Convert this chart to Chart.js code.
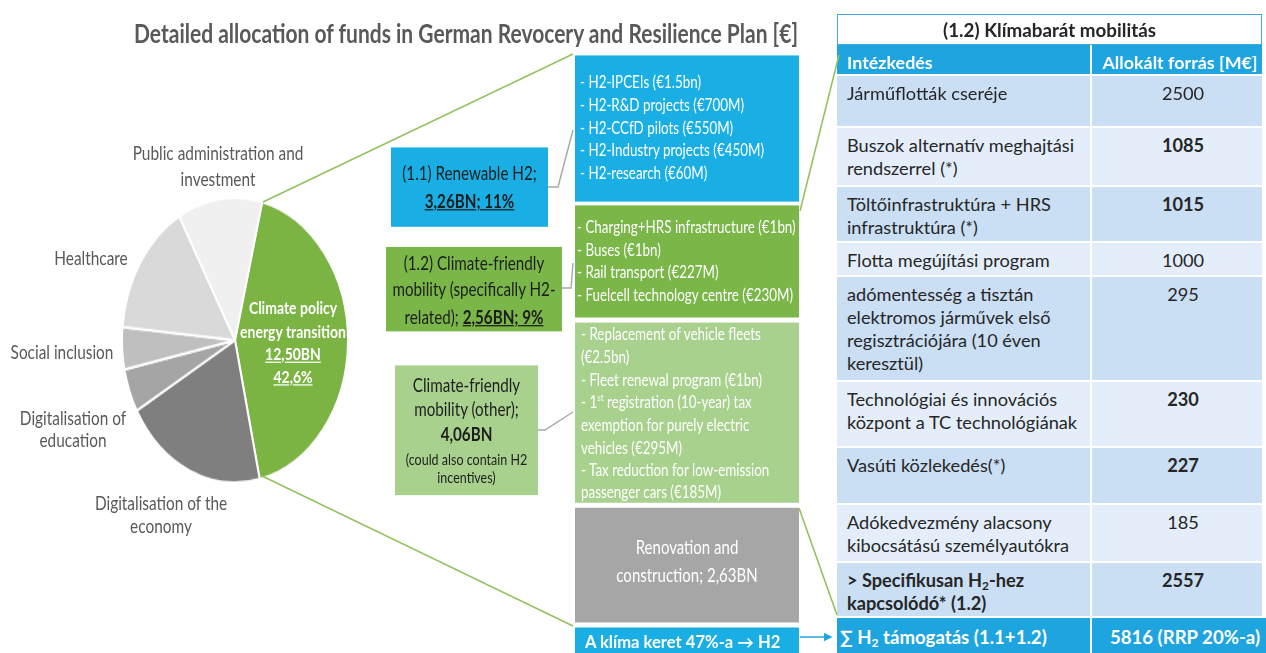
<!DOCTYPE html>
<html lang="en">
<head>
<meta charset="UTF-8">
<title>German Recovery and Resilience Plan - allocation of funds</title>
<script src="https://cdn.jsdelivr.net/npm/chart.js"></script>
<style>
  body { margin: 0; background: #fff; font-family: Lato, "Open Sans", sans-serif; color: #262626; overflow: hidden; }
  #page { position: relative; width: 1266px; height: 653px; overflow: hidden; }
  /* the source picture is stretched vertically, so the left part of the layout is scaled the same way */
  #stage { position: absolute; left: 0; top: 0; width: 1266px; height: 520px; transform: scaleY(1.26); transform-origin: 0 0; }
  .abs { position: absolute; white-space: nowrap; }
  .title { font-weight: bold; font-size: 21px; color: #595959; text-align: center; }
  .lbl { font-size: 15.4px; color: #595959; text-align: center; }
  .blue { background: #1aafe4; }
  .green { background: #7ab648; }
  .lgreen { background: #a9d18e; }
  .grey { background: #a6a6a6; }
  .list { font-size: 13.4px; color: #fff; }
  .dark { font-size: 15.2px; color: #1e1e1e; text-align: center; }
  .u { text-decoration: underline; font-weight: bold; }
  .cell { position: absolute; box-sizing: border-box; padding-left: 10px; font-size: 18.2px; line-height: 23px; white-space: nowrap; }
  sup { font-size: 0.6em; line-height: 0; }
  sub { font-size: 0.65em; line-height: 0; vertical-align: -0.25em; }
  #lines { position: absolute; left: 0; top: 0; }
</style>
</head>
<body>
<div id="page">
  <div id="stage">
    <div class="abs title" data-r="66,33,800" data-lh="30">Detailed allocation of funds in German Revocery and Resilience Plan [€]</div>

    <div class="abs" id="pieBox" data-r="121,196.3,228,287.3"><canvas id="pie"></canvas></div>

    <div class="abs lbl" data-r="108,153,220" data-lh="27">Public administration and<br>investment</div>
    <div class="abs lbl" data-r="30,258,122" data-lh="25">Healthcare</div>
    <div class="abs lbl" data-r="0,353,124" data-lh="25">Social inclusion</div>
    <div class="abs lbl" data-r="8,417,130" data-lh="23">Digitalisation of<br>education</div>
    <div class="abs lbl" data-r="76,503,170" data-lh="23">Digitalisation of the<br>economy</div>
    <div class="abs" id="pieText" data-r="228,308,130" data-lh="23" style="font-size:14px;font-weight:bold;color:#fff;text-align:center"></div>

    <div class="abs blue" data-r="575,56,224,146"></div>
    <div class="abs list" id="listH2" data-r="580,83,220" data-lh="22.6"></div>
    <div class="abs green" data-r="575,206,224,111"></div>
    <div class="abs list" id="listMob" data-r="577,227,222" data-lh="22.7"></div>
    <div class="abs lgreen" data-r="575,322,224,181"></div>
    <div class="abs list" id="listOther" data-r="581,335,218" data-lh="22.6"></div>
    <div class="abs grey" data-r="575,508,224,115"></div>
    <div class="abs" data-r="575,548,224" data-lh="27" style="font-size:15px;color:#fff;text-align:center">Renovation and<br>construction; 2,63BN</div>
    <div class="abs blue" data-r="575,627,224,40"></div>

    <div class="abs blue" data-r="391,147,157,80"></div>
    <div class="abs dark" data-r="385,173,169" data-lh="28">(1.1) Renewable H2;<br><span class="u">3,26BN; 11%</span></div>
    <div class="abs green" data-r="386,247,176,85"></div>
    <div class="abs dark" data-r="380,263,188" data-lh="27">(1.2) Climate-friendly<br>mobility (specifically H2-<br>related); <span class="u">2,56BN; 9%</span></div>
    <div class="abs lgreen" data-r="395,366,143,129"></div>
    <div class="abs dark" data-r="390,385,153" data-lh="25">Climate-friendly<br>mobility (other);<br><b>4,06BN</b></div>
    <div class="abs dark" data-r="390,460,153" data-lh="18" style="font-size:12.5px">(could also contain H2<br>incentives)</div>
  </div>

  <!-- right-hand table, laid out directly in picture pixels -->
  <div class="abs" style="left:585px;top:632px;line-height:21px;font-size:16.6px;font-weight:bold;color:#fff">A klíma keret 47%-a → H2</div>
  <div class="abs" style="left:837px;top:14px;width:425px;height:31px;box-sizing:border-box;border:1px solid #3fa9e0;background:#fff"></div>
  <div class="abs" style="left:837px;top:17px;width:425px;line-height:26px;font-size:18.8px;font-weight:bold;text-align:center">(1.2) Klímabarát mobilitás</div>
  <div id="table"></div>

  <svg id="lines" width="1266" height="653">
    <defs>
      <marker id="arr" markerWidth="6" markerHeight="6" refX="5" refY="3" orient="auto">
        <path d="M0,0 L6,3 L0,6 z" fill="#1ea4df"/>
      </marker>
    </defs>
    <g stroke="#92c25f" stroke-width="1.6" fill="none">
      <path d="M263,202 L573,54"/>
      <path d="M260,475 L573,626"/>
      <path d="M800,211 L839,55"/>
      <path d="M799,508 L837,615"/>
    </g>
    <g stroke="#a6a6a6" stroke-width="1.4" fill="none">
      <path d="M548,187 H558 L573,130"/>
      <path d="M562,288 H571 L573,263"/>
      <path d="M538,430 H545 L573,412"/>
    </g>
    <path d="M800,637 H831" stroke="#1ea4df" stroke-width="1.5" marker-end="url(#arr)"/>
  </svg>
</div>

<script>
  const S = 1.26;

  // pie: sectors of the plan, billions of euro
  const sectorLabels = ['Climate policy energy transition', 'Digitalisation of the economy', 'Digitalisation of education',
    'Social inclusion', 'Healthcare', 'Public administration and investment'];
  const sectorFundsBn = [12.50, 5.95, 1.44, 1.40, 4.49, 3.54];
  const sectorColors = ['#7cb444', '#7f7f7f', '#a5a5a5', '#bfbfbf', '#d9d9d9', '#f0f0f0'];
  const climateText = ['Climate policy', 'energy transition', '12,50BN', '42,6%'];

  // breakdown boxes
  const h2Items = ['- H2-IPCEIs (€1.5bn)', '- H2-R&D projects (€700M)', '- H2-CCfD pilots (€550M)',
    '- H2-Industry projects (€450M)', '- H2-research (€60M)'];
  const mobilityItems = ['- Charging+HRS infrastructure (€1bn)', '- Buses (€1bn)', '- Rail transport (€227M)',
    '- Fuelcell technology centre (€230M)'];
  const otherItems = ['- Replacement of vehicle fleets', '(€2.5bn)', '-  Fleet renewal program (€1bn)',
    '- 1<sup>st</sup> registration (10-year) tax', 'exemption for purely electric', 'vehicles (€295M)',
    '- Tax reduction for low-emission', 'passenger cars (€185M)'];

  // table (1.2) Klímabarát mobilitás
  const tableHeader = ['Intézkedés', 'Allokált forrás [M€]'];
  const measures = ['Járműflották cseréje', 'Buszok alternatív meghajtási<br>rendszerrel (*)',
    'Töltőinfrastruktúra + HRS<br>infrastruktúra (*)', 'Flotta megújítási program',
    'adómentesség a tisztán<br>elektromos járművek első<br>regisztrációjára (10 éven<br>keresztül)',
    'Technológiai és innovációs<br>központ a TC technológiának', 'Vasúti közlekedés(*)',
    'Adókedvezmény alacsony<br>kibocsátású személyautókra', '<b>&gt; Specifikusan H<sub>2</sub>-hez<br>kapcsolódó* (1.2)</b>'];
  const measureFunds = [2500, 1085, 1015, 1000, 295, 230, 227, 185, 2557];
  const fundsBold = [false, true, true, false, false, true, true, false, true];
  const totalRow = ['∑ H<sub>2</sub> támogatás (1.1+1.2)', '5816 (RRP 20%-a)'];

  document.getElementById('listH2').innerHTML = h2Items.join('<br>');
  document.getElementById('listMob').innerHTML = mobilityItems.join('<br>');
  document.getElementById('listOther').innerHTML = otherItems.join('<br>');
  document.getElementById('pieText').innerHTML = climateText
    .map((t, i) => i > 1 ? '<span style="text-decoration:underline">' + t + '</span>' : t).join('<br>');

  // table rows, boundaries in picture pixels
  const rowTops = [45, 76, 128, 187, 243, 277, 382, 448, 505, 563, 618, 660];
  const table = document.getElementById('table');
  function cell(x, w, top, bottom, bg, html, style) {
    const d = document.createElement('div');
    d.className = 'cell';
    d.style.left = x + 'px';
    d.style.width = w + 'px';
    d.style.top = top + 'px';
    d.style.height = (bottom - top - 2) + 'px';
    d.style.background = bg;
    d.style.paddingTop = '5.5px';
    d.innerHTML = html;
    if (style) Object.assign(d.style, style);
    table.appendChild(d);
  }
  const headBlue = '#1ea4df';
  cell(837, 253, rowTops[0], rowTops[1], headBlue, tableHeader[0], { color: '#fff', fontWeight: 'bold', fontSize: '17.9px' });
  cell(1092, 170, rowTops[0], rowTops[1], headBlue, tableHeader[1], { color: '#fff', fontWeight: 'bold', fontSize: '17.9px', textAlign: 'center', paddingLeft: '6px' });
  measures.forEach((m, i) => {
    const bg = i % 2 === 0 ? '#cadef4' : '#e4eefa';
    const top = rowTops[i + 1], bottom = rowTops[i + 2];
    cell(837, 253, top, bottom, bg, m);
    cell(1092, 170, top, bottom, bg, String(measureFunds[i]),
      { textAlign: 'center', paddingLeft: '12px', fontWeight: fundsBold[i] ? 'bold' : 'normal' });
  });
  const tTop = rowTops[10], tBottom = rowTops[11];
  const totalStyle = { color: '#fff', fontWeight: 'bold', fontSize: '18.6px', paddingTop: '7.5px' };
  cell(837, 253, tTop, tBottom, headBlue, totalRow[0], Object.assign({ paddingLeft: '3px' }, totalStyle));
  cell(1092, 174, tTop, tBottom, headBlue, totalRow[1], Object.assign({ textAlign: 'center', paddingLeft: '12px' }, totalStyle));

  // place the stretched part, given in picture coordinates (x, y, w, h)
  document.querySelectorAll('[data-r]').forEach(el => {
    const [x, y, w, h] = el.dataset.r.split(',').map(Number);
    const lh = el.dataset.lh ? Number(el.dataset.lh) : 0;
    el.style.left = x + 'px';
    el.style.top = ((y - lh / 2) / S) + 'px';
    if (w) el.style.width = w + 'px';
    if (h) el.style.height = (h / S) + 'px';
    if (lh) el.style.lineHeight = (lh / S) + 'px';
  });

  new Chart(document.getElementById('pie'), {
    type: 'pie',
    data: {
      labels: sectorLabels,
      datasets: [{
        data: sectorFundsBn,
        backgroundColor: sectorColors,
        borderColor: '#ffffff',
        borderWidth: 2
      }]
    },
    options: {
      responsive: true,
      maintainAspectRatio: false,
      animation: false,
      events: [],
      rotation: 13.9,
      layout: { padding: 0 },
      plugins: { legend: { display: false }, tooltip: { enabled: false } }
    }
  });
</script>
</body>
</html>
